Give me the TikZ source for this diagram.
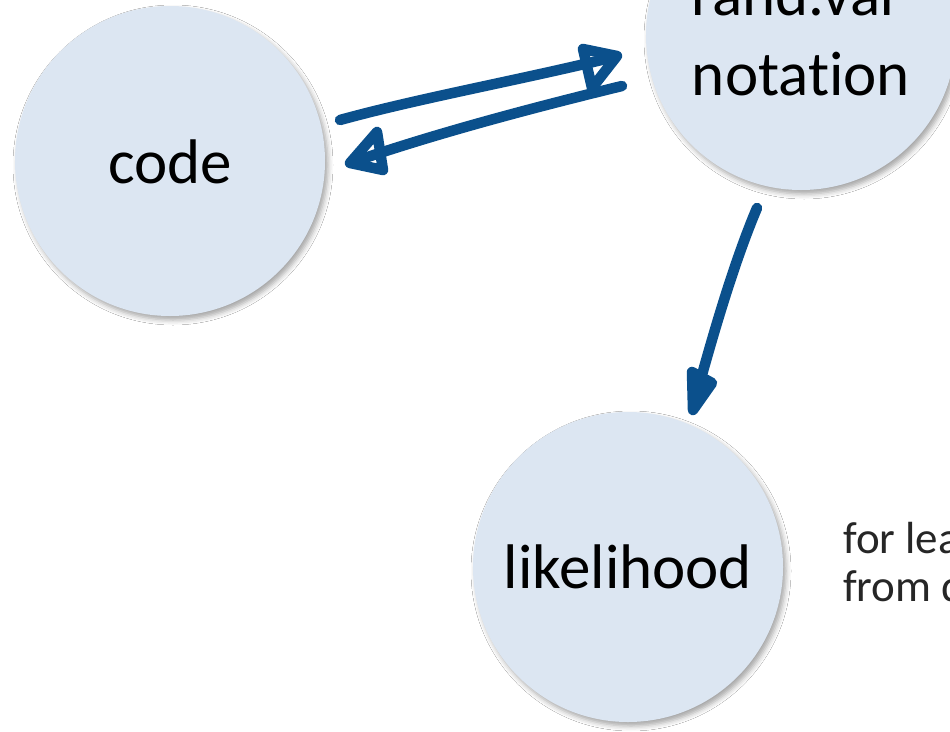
\documentclass[tikz,border=0pt]{standalone}
\usepackage{fontspec}
\setmainfont{Carlito}[RawFeature={-liga;-dlig;-calt}]
\usetikzlibrary{shadows.blur}
\definecolor{bubblefill}{RGB}{220,230,242}
\definecolor{ink}{RGB}{11,80,140}
\begin{document}
\begin{tikzpicture}[x=1pt,y=-1pt,
 bubble/.style={circle, minimum size=310pt, inner sep=0pt, fill=bubblefill,
   blur shadow={shadow xshift=3pt, shadow yshift=-4pt, shadow blur radius=5pt, shadow opacity=35}},
 big/.style={font=\fontsize{63}{80}\selectfont, anchor=base, inner sep=0pt},
 note/.style={font=\fontsize{45}{52}\selectfont, anchor=base west, inner sep=0pt, text=black!85},
 stroke/.style={draw=ink, line width=10.5pt, line cap=round, line join=round}]
\path[use as bounding box, clip] (0,0) rectangle (950,731);
\fill[white] (0,0) rectangle (950,731);
% circles
\node[bubble] (code) at (170,161) {};
\node[bubble] (rv) at (801,35) {};
\node[bubble] (lik) at (628,567) {};
% texts
\node[big] (codet) at (170,183) {code};
\node[big] (rvt1) at (797,15) {rand.var};
\node[big] (rvt2) at (801,95) {notation};
\node[big] (likt) at (628,588) {likelihood};
\node[note] (n1) at (843,553) {for lea};
\node[note] (n2) at (843,601) {from d};
% arrow ends
\coordinate (a1s) at (340,120);
\coordinate (a1e) at (614,57);
\coordinate (a2s) at (622,86);
\coordinate (a2e) at (353,162);
\coordinate (a3s) at (757,208);
\coordinate (a3e) at (694,404);
% arrows (hand drawn)
\draw[stroke] (a1s) .. controls (420,98) and (520,80) .. (a1e);
\draw[stroke] (583,49) -- (617,56) -- (592,88) -- cycle;
\draw[stroke] (a2s) .. controls (540,106) and (440,132) .. (a2e);
\draw[stroke] (377,132) -- (350,163) -- (383,170) -- cycle;
\draw[stroke] (a3s) .. controls (735,260) and (714,330) .. (a3e);
\draw[stroke] (692,372) -- (693,410) -- (712,383) -- cycle;
\end{tikzpicture}
\end{document}
